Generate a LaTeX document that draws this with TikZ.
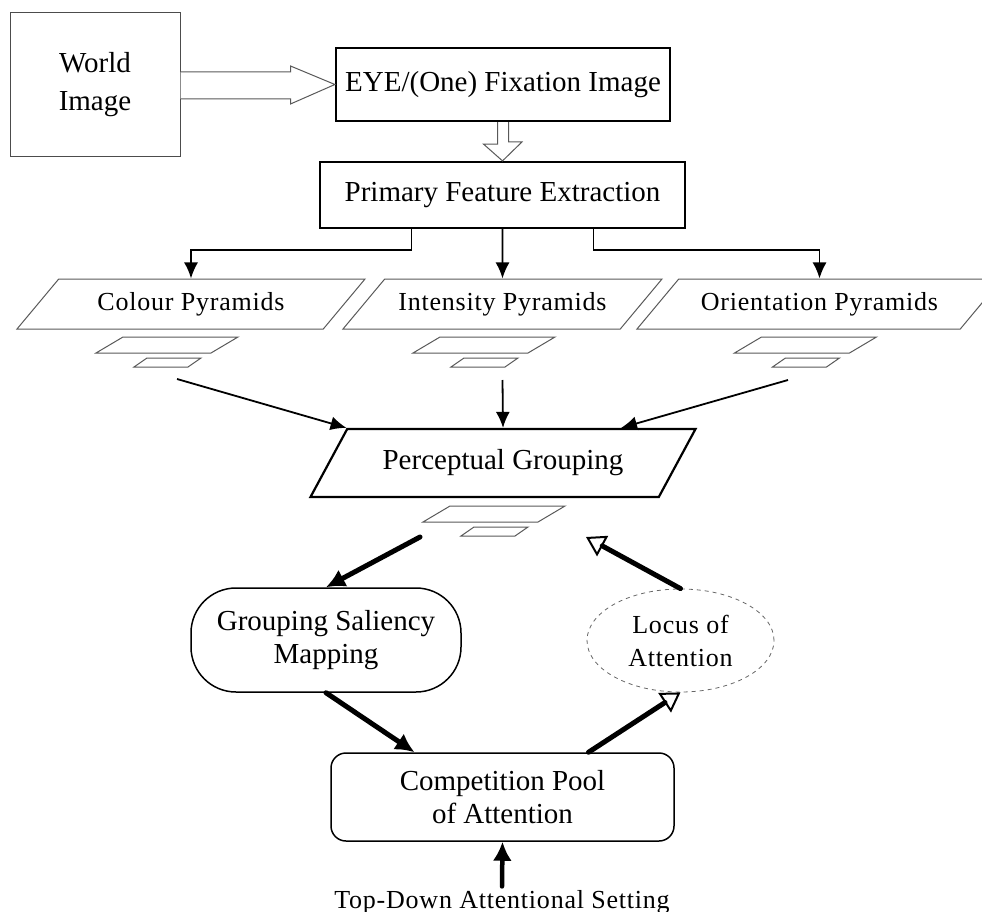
\documentclass[tikz,border=0pt]{standalone}
\usepackage{fontspec}
\setmainfont{Liberation Serif}
\newfontfamily\spacedfont[LetterSpace=3]{Liberation Serif}
\usetikzlibrary{arrows.meta,shapes.geometric,calc}
\newcommand{\mainsize}{\fontsize{29}{33}\selectfont}
\newcommand{\labelsize}{\spacedfont\fontsize{26}{33}\selectfont}
% two stacked planes under a pyramid label, #1 = centre of the larger plane
\newcommand{\pyramid}[1]{%
  \draw[planeline] ($(#1)+(-71,8)$) -- ++(115,0) -- ++(27,-16) -- ++(-115,0) -- cycle;
  \draw[planeline] ($(#1)+(-33,22)$) -- ++(54,0) -- ++(13,-9) -- ++(-54,0) -- cycle;
}
\tikzset{
  mainbox/.style   = {shape=rectangle, draw, line width=2.2pt, align=center,
                      font=\mainsize},
  worldbox/.style  = {mainbox, draw=black!70, line width=1pt},
  roundbox/.style  = {mainbox, line width=1.5pt},
  pyrbox/.style    = {trapezium, trapezium left angle=36, trapezium right angle=144,
                      trapezium stretches body, draw=black!65, line width=1pt,
                      minimum height=50pt, inner xsep=0pt, font=\labelsize},
  groupbox/.style  = {pyrbox, trapezium left angle=42, trapezium right angle=138,
                      draw=black, line width=2.2pt, minimum height=68pt, font=\mainsize},
  locusnode/.style = {ellipse, draw=black!60, line width=0.8pt, dash pattern=on 4pt off 4pt,
                      align=center, font=\labelsize},
  planeline/.style = {draw=black!65, line width=1pt},
  blockarrow/.style= {draw=black!65, line width=1pt, fill=white},
  thinarrow/.style = {-{Latex[length=16pt,width=14pt]}, line width=1.8pt},
  thickarrow/.style= {-{Latex[length=19pt,width=19pt]}, line width=5pt, line cap=round},
  openarrow/.style = {-{Triangle[open,length=19pt,width=23pt,line width=2pt]},
                      line width=5pt, line cap=round},
}

\begin{document}
\begin{tikzpicture}[x=1pt, y=-1pt]
  \useasboundingbox (0,0) rectangle (982,912);

  % top row
  \node [worldbox, minimum width=170pt, minimum height=144pt, font=\fontsize{29}{38}\selectfont]
    (world) at (95,85) {World\\Image};
  \node [mainbox, minimum width=334pt, minimum height=73pt] (eye) at (503,84.5)
    {EYE/(One) Fixation Image};
  \node [mainbox, minimum width=365pt, minimum height=66pt] (primary) at (502.5,195)
    {Primary Feature Extraction};

  \draw [blockarrow] ($(world.east)+(0,-13)$) -- ++(110,0) -- ++(0,-6) -- (eye.west)
    -- ($(world.east)+(110,19)$) -- ++(0,-5) -- ($(world.east)+(0,14)$);
  \draw [blockarrow] ($(eye.south)+(-5.5,0)$) -- ++(0,22) -- ++(-14,0) -- (primary.north)
    -- ($(primary.north)+(19.5,-19)$) -- ++(-13.5,0) -- ($(eye.south)+(5.5,0)$);

  % feature pyramids
  \node [pyrbox, minimum width=348pt] (colour)      at (191,304)   {Colour Pyramids};
  \node [pyrbox, minimum width=319pt] (intensity)   at (502.5,304) {Intensity Pyramids};
  \node [pyrbox, minimum width=365pt] (orientation) at (819.5,304) {Orientation Pyramids};

  \draw [thinarrow] ($(primary.south)+(-91,0)$) -- ++(0,21) -| (colour.north);
  \draw [thinarrow] (primary.south) -- (intensity.north);
  \draw [thinarrow] ($(primary.south)+(91,0)$) -- ++(0,21) -| (orientation.north);

  \coordinate (colourpyr)      at (167,345);
  \coordinate (intensitypyr)   at (484,345);
  \coordinate (orientationpyr) at (805.5,345);
  \pyramid{colourpyr}
  \pyramid{intensitypyr}
  \pyramid{orientationpyr}

  % grouping
  \node [groupbox, minimum width=385pt] (perceptual) at (503,463) {Perceptual Grouping};
  \coordinate (perceptualpyr) at (494,514);
  \pyramid{perceptualpyr}

  \coordinate (colourout)      at (177,379);
  \coordinate (intensityout)   at (502.5,380);
  \coordinate (orientationout) at (788,380);
  \draw [thinarrow] (colourout) -- (perceptual.top left corner);
  \draw [thinarrow] (intensityout) -- (perceptual.north);
  \draw [thinarrow] (orientationout) -- ($(perceptual.north)+(118,0)$);

  % attention loop
  \node [roundbox, rounded corners=45pt, minimum width=270pt, minimum height=104pt]
    (grouping) at (326,640) {Grouping Saliency\\Mapping};
  \node [locusnode, minimum width=187pt, minimum height=103pt] (locus) at (680.5,640.5)
    {Locus of\\Attention};
  \node [roundbox, rounded corners=15pt, minimum width=343pt, minimum height=88pt]
    (competition) at (502.5,797) {Competition Pool\\of Attention};
  \node [font=\labelsize, anchor=base] (topdown) at (502,908) {Top-Down Attentional Setting};

  \coordinate (groupout) at (420,537);
  \coordinate (groupin)  at (586,537);
  \draw [thickarrow] (groupout) -- (grouping.north);
  \draw [openarrow] (locus.north) -- (groupin);
  \draw [thickarrow] (grouping.south) -- ($(competition.north)+(-88,0)$);
  \draw [openarrow] ($(competition.north)+(86,0)$) -- (locus.south);
  \draw [thickarrow, line width=4.5pt] (topdown.north) -- (competition.south);
\end{tikzpicture}
\end{document}
